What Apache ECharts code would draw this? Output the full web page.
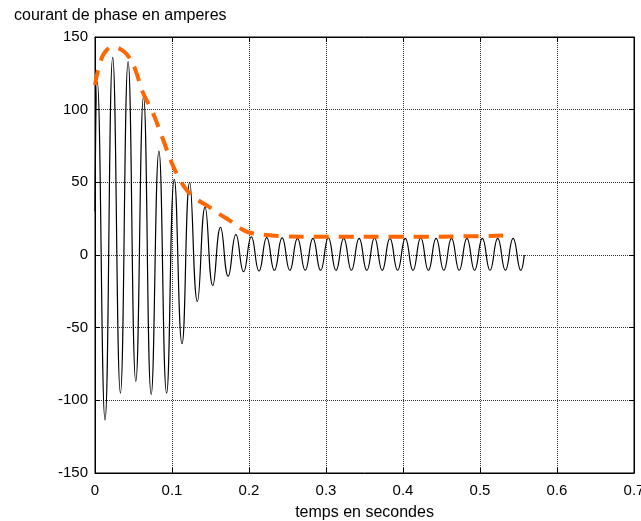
<!DOCTYPE html>
<html>
<head>
<meta charset="utf-8">
<script src="https://cdn.jsdelivr.net/npm/echarts@6/dist/echarts.min.js"></script>
<style>html,body{margin:0;padding:0;background:#fff;overflow:hidden;width:100%;height:100%}#c{width:641px;height:521px;position:absolute;left:0;top:0}</style>
</head>
<body>
<div id="c"></div>
<script>
// ---- data ----
const title = 'courant de phase en amperes';
const xName = 'temps en secondes';
const xTicks = [0, 0.1, 0.2, 0.3, 0.4, 0.5, 0.6, 0.7];
const yTicks = [-150, -100, -50, 0, 50, 100, 150];

const startPoint = [0, 30];
const endPoint = [0.5575, 0];

const peakTimes = [0.003, 0.023, 0.043, 0.063, 0.083, 0.103, 0.123, 0.143, 0.163, 0.183,
  0.203, 0.223, 0.243, 0.263, 0.283, 0.303, 0.323, 0.343, 0.363, 0.383,
  0.403, 0.423, 0.443, 0.463, 0.483, 0.503, 0.523, 0.543];
const peakValues = [119, 136, 133, 109, 71.5, 52, 50, 33, 19, 14,
  12.5, 12, 11.8, 11.5, 11.5, 11.8, 11.5, 11.5, 11.8, 11.5,
  11.5, 11.8, 11.5, 11.5, 11.5, 11.5, 11.5, 11.5];
const troughTimes = [0.013, 0.033, 0.053, 0.073, 0.093, 0.113, 0.133, 0.153, 0.173, 0.193,
  0.213, 0.233, 0.253, 0.273, 0.293, 0.313, 0.333, 0.353, 0.373, 0.393,
  0.413, 0.433, 0.453, 0.473, 0.493, 0.513, 0.533, 0.553];
const troughValues = [-113.5, -95, -87, -96, -95, -61, -32, -21, -14.5, -11.5,
  -11, -10.5, -10.5, -10.5, -10.5, -10.5, -10.5, -10.5, -10.5, -10.5,
  -10.5, -10.5, -10.5, -10.5, -10.5, -10.5, -10.5, -10.5];

const envTimes = [0, 0.007, 0.015, 0.025, 0.035, 0.043, 0.052, 0.062, 0.075, 0.088,
  0.1, 0.11, 0.12, 0.133, 0.147, 0.162, 0.177, 0.19, 0.2, 0.218, 0.24, 0.3, 0.4, 0.5, 0.53];
const envValues = [117, 133, 141, 143, 141, 137, 128, 112, 98, 80,
  63, 52, 44, 38, 33.5, 28, 23, 18, 15.5, 14, 13, 12.5, 12.5, 13, 13.5];

// ---- build series ----
const wave = [startPoint];
for (let i = 0; i < peakTimes.length; i++) {
  wave.push([peakTimes[i], peakValues[i]]);
  wave.push([troughTimes[i], troughValues[i]]);
}
wave.push(endPoint);
const env = envTimes.map((t, i) => [t, envValues[i]]);

const font = 'Liberation Sans, Arial, sans-serif';
const chart = echarts.init(document.getElementById('c'), null, {renderer: 'canvas', width: 641, height: 521});
const gridLine = {show: true, lineStyle: {color: '#333', width: 1, type: [1, 1]}};
const tick = {show: true, inside: true, length: 5, lineStyle: {color: '#000'}};
const line = {show: true, onZero: false, lineStyle: {color: '#000', width: 1}};
chart.setOption({
  animation: false,
  backgroundColor: '#fff',
  title: {text: title, left: 9, top: 3, textStyle: {fontFamily: font, fontSize: 16, fontWeight: 'normal', color: '#000'}},
  grid: {left: 95, right: 7, top: 37, bottom: 48, containLabel: false, outerBoundsMode: 'none',
    show: true, borderColor: '#000', borderWidth: 1, backgroundColor: 'transparent'},
  xAxis: [{
    type: 'value', min: 0, max: 0.7, interval: 0.1,
    name: xName, nameLocation: 'middle', nameGap: 32,
    nameTextStyle: {fontFamily: font, fontSize: 16, color: '#000'},
    axisLine: line, axisTick: tick,
    axisLabel: {fontFamily: font, fontSize: 15, color: '#000', margin: 10,
      formatter: v => String(Math.round(v * 10) / 10)},
    splitLine: gridLine
  }, {
    type: 'value', min: 0, max: 0.7, interval: 0.1, position: 'top',
    axisLine: line, axisTick: tick,
    axisLabel: {show: false}, splitLine: {show: false}
  }],
  yAxis: [{
    type: 'value', min: -150, max: 150, interval: 50,
    axisLine: line, axisTick: tick,
    axisLabel: {fontFamily: font, fontSize: 15, color: '#000', margin: 7},
    splitLine: gridLine
  }, {
    type: 'value', min: -150, max: 150, interval: 50, position: 'right',
    axisLine: line, axisTick: tick,
    axisLabel: {show: false}, splitLine: {show: false}
  }],
  series: [{
    type: 'line', data: wave, smooth: 0.5, showSymbol: false, symbol: 'none',
    lineStyle: {color: '#000', width: 1.2}, z: 2
  }, {
    type: 'line', data: env, smooth: 0.4, showSymbol: false, symbol: 'none',
    lineStyle: {color: '#ff6600', width: 4, type: [15, 10]}, z: 3
  }]
});
</script>
</body>
</html>
